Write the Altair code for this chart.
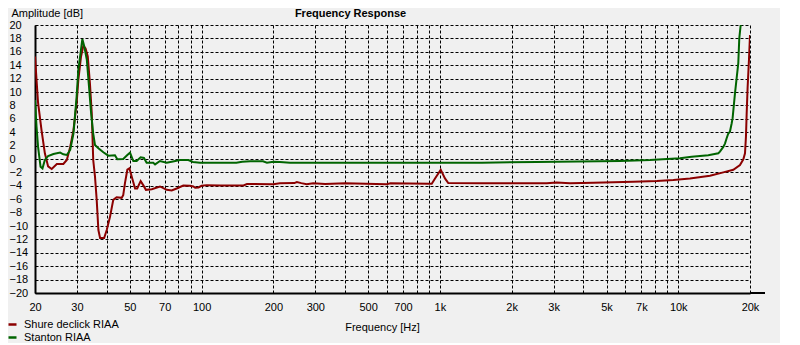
import altair as alt
import pandas as pd

# ---- data ----
SERIES_NAMES = ["Shure declick RIAA", "Stanton RIAA"]
SERIES_COLORS = ["#8B0000", "#006400"]

SHURE_FREQ = [20, 20.6, 21.3, 22.0, 22.7, 23.5, 24.7, 26.3, 27.2, 28.1, 29.0, 29.9, 30.4,
              31.2, 31.9, 32.6, 33.3, 34.0, 34.6, 35.1, 35.7, 36.3, 36.9, 37.5, 39.0, 40.0,
              41.3, 42.6, 44.0, 46.2, 46.9, 47.7, 48.8, 49.8, 50.9, 52.6, 53.7, 55.5, 56.9,
              58.4, 61.8, 66.9, 71.4, 74.9, 78.6, 83.8, 89.4, 92.3, 94.0, 97.0, 100, 105,
              120, 150, 155, 200, 213, 245, 251, 262, 276, 294, 330, 400, 598, 620, 900,
              924, 954, 1008, 1050, 1084, 1472, 2806, 3090, 3514, 4400, 6472, 8124, 9528,
              11196, 13584, 15450, 17020, 18156, 18752, 19056, 19232, 19360, 19540, 19800, 20000]
SHURE_DB = [15.3, 8.4, 4.3, 0.85, -1.1, -1.5, -0.75, -0.75, -0.15, 1.8, 4.3, 8.3, 11.8,
            15.3, 16.9, 16.5, 15.3, 11.3, 6.9, -0.15, -2.6, -6.1, -10.6, -11.8, -11.8, -10.6,
            -8.6, -6.1, -5.7, -5.8, -5.4, -3.6, -1.6, -1.4, -2.6, -4.4, -4.4, -3.3, -3.9,
            -4.6, -4.5, -4.1, -4.6, -4.7, -4.4, -3.95, -4.0, -4.1, -4.3, -4.25, -4.0, -3.9,
            -3.95, -3.95, -3.73, -3.78, -3.63, -3.6, -3.43, -3.6, -3.78, -3.63, -3.73, -3.63, -3.75, -3.63, -3.7,
            -3.7, -2.9, -1.6, -2.9, -3.6, -3.63, -3.63, -3.5, -3.63, -3.53, -3.4, -3.3, -3.13,
            -2.9, -2.5, -2.0, -1.6, -0.9, -0.05, 0.85, 3.3, 6.6, 10.6, 14.8, 18.5]

STANTON_FREQ = [20, 20.3, 20.6, 21.1, 21.5, 22.0, 22.7, 23.9, 25.5, 26.3, 27.2, 28.1, 29.0,
                29.9, 30.4, 31.1, 31.6, 32.2, 33.0, 33.7, 34.4, 35.1, 35.7, 36.9, 38.7, 40.6,
                43.3, 44.3, 46.9, 48.8, 50.1, 51.7, 53.4, 55.5, 57.3, 58.8, 62.7, 63.8, 66.9,
                71.4, 74.9, 81.2, 88, 92, 98.5, 140, 148, 160, 181, 188, 200, 213, 235, 1500,
                2548, 5698, 7608, 10170, 11378, 13366, 14030, 14724, 14960, 15450, 15704,
                15960, 16218, 16480, 16750, 16906, 17298, 17860, 18032, 18280, 18500]
STANTON_DB = [8.8, 4.8, 1.8, -1.15, -1.4, -0.15, 0.45, 0.75, 0.95, 0.7, 0.6, 1.35, 3.8,
              9.3, 13.3, 16.0, 17.9, 16.8, 14.8, 10.8, 6.8, 3.8, 2.1, 1.6, 1.0, 0.5,
              0.55, -0.05, 0.0, 0.6, 0.95, -0.3, -0.3, 0.25, 0.15, -0.55, -0.55, -0.8, -0.3,
              -0.55, -0.4, -0.15, -0.15, -0.45, -0.55, -0.55, -0.4, -0.35, -0.35, -0.55, -0.4, -0.45, -0.55, -0.55,
              -0.45, -0.3, -0.15, 0.1, 0.35, 0.55, 0.7, 0.85, 1.1, 1.8, 2.3,
              3.1, 3.8, 4.1, 5.3, 6.1, 9.8, 14.3, 18.0, 20.0, 21.0]

GRID_FREQS = [20, 30, 40, 50, 60, 70, 80, 90, 100, 200, 300, 400, 500, 600, 700, 800, 900,
              1000, 2000, 3000, 4000, 5000, 6000, 7000, 8000, 9000, 10000, 20000]
LABELED_FREQS = [20, 30, 50, 70, 100, 200, 300, 500, 700]
LABELED_KFREQS = [1000, 2000, 3000, 5000, 7000, 10000, 20000]
Y_TICKS = list(range(-20, 21, 2))

rows = []
for f, v in zip(SHURE_FREQ, SHURE_DB):
    rows.append({"freq": f, "db": v, "series": SERIES_NAMES[0], "order": 1})
for f, v in zip(STANTON_FREQ, STANTON_DB):
    rows.append({"freq": f, "db": v, "series": SERIES_NAMES[1], "order": 0})
df = pd.DataFrame(rows)

FONT = "Liberation Sans"

label_expr = (
    "indexof(%s, datum.value) >= 0 ? (datum.value/1000) + 'k' : "
    "(indexof(%s, datum.value) >= 0 ? '' + datum.value : '')"
    % (str(LABELED_KFREQS), str(LABELED_FREQS))
)

lines = alt.Chart(df).mark_line(strokeWidth=2, clip=True).encode(
    x=alt.X("freq:Q",
            scale=alt.Scale(type="log", domain=[20, 20000], nice=False),
            axis=alt.Axis(values=GRID_FREQS, labelExpr=label_expr, labelOverlap=False,
                          labelFlush=False, tickSize=0, ticks=False, labelPadding=8,
                          title="Frequency [Hz]", titleX=347, titleY=34,
                          titleAlign="center", titleBaseline="middle",
                          titleFontWeight="normal")),
    y=alt.Y("db:Q",
            scale=alt.Scale(domain=[-20, 20], nice=False, zero=False),
            axis=alt.Axis(values=Y_TICKS, tickSize=0, ticks=False, labelAlign="left",
                          labelPadding=26, labelBaseline="middle",
                          title="Amplitude [dB]", titleAngle=0, titleX=-24, titleY=-12,
                          titleAlign="left", titleBaseline="middle",
                          titleFontWeight="normal")),
    color=alt.Color("series:N",
                    scale=alt.Scale(domain=SERIES_NAMES, range=SERIES_COLORS),
                    legend=alt.Legend(orient="none", legendX=-28, legendY=294, title=None,
                                      symbolType="stroke", symbolSize=64,
                                      symbolStrokeWidth=2.5, labelFont=FONT,
                                      labelFontSize=11, labelColor="#000000",
                                      rowPadding=1, padding=0, labelOffset=6)),
    order=alt.Order("order:Q"),
    detail="series:N",
)

axis_ext = alt.Chart(pd.DataFrame({"a": [0]})).mark_rule(
    color="black", strokeWidth=2
).encode(x=alt.value(715), x2=alt.value(730), y=alt.value(268))

chart = alt.layer(lines, axis_ext).properties(
    width=715,
    height=268,
    title=alt.TitleParams("Frequency Response", font=FONT, fontSize=11,
                          fontWeight="bold", color="#000000", anchor="middle",
                          dx=-42, dy=16),
    autosize=alt.AutoSizeParams(type="none"),
    padding={"left": 27, "top": 17, "right": 30, "bottom": 50},
    background="#F0F0F0",
).configure_view(stroke=None).configure_axis(
    labelFont=FONT, labelFontSize=11, labelColor="#000000",
    titleFont=FONT, titleFontSize=11, titleColor="#000000",
    domainColor="#000000", domainWidth=2,
    gridColor="#000000", gridDash=[3, 2], gridWidth=1, gridOpacity=1,
)

chart.save("out.html", embed_options={"renderer": "svg", "actions": False})
